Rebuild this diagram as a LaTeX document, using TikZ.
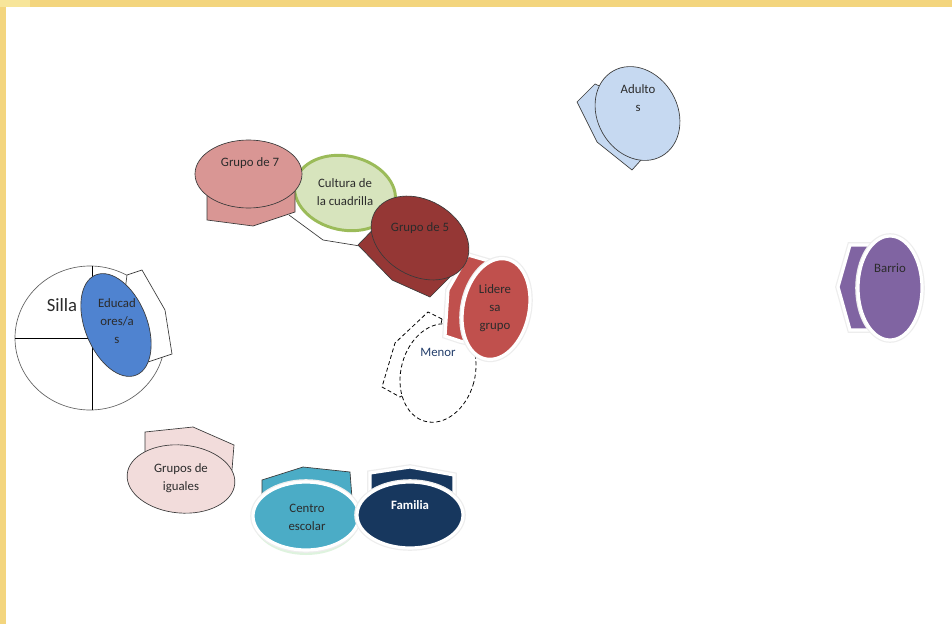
\documentclass[tikz,border=0pt]{standalone}
\usepackage{fontspec}
\setmainfont{Carlito}
\begin{document}
\definecolor{frameY}{HTML}{F3D57E}
\definecolor{txt}{HTML}{2B2B2B}
\definecolor{edge}{HTML}{3A3A3A}
\definecolor{gsiete}{HTML}{D99694}
\definecolor{cultF}{HTML}{D7E4BD}
\definecolor{cultB}{HTML}{9BBB59}
\definecolor{gcinco}{HTML}{953735}
\definecolor{lider}{HTML}{C0504D}
\definecolor{adul}{HTML}{C6D9F1}
\definecolor{barr}{HTML}{8064A2}
\definecolor{educ}{HTML}{4F83D0}
\definecolor{igual}{HTML}{F2DCDB}
\definecolor{centro}{HTML}{4BACC6}
\definecolor{famil}{HTML}{17375E}
\definecolor{menorT}{HTML}{233E6B}
\begin{tikzpicture}[x=0.75pt,y=-0.75pt,
  lbl/.style={font=\fontsize{9.6}{13.6}\selectfont, text=txt, align=center, inner sep=0pt},
  thin edge/.style={draw=edge, line width=0.5pt},
  glow/.style={preaction={draw=black!7, line width=4.2pt}, draw=white, line width=2.4pt},
  dashy/.style={draw=black, dashed, line width=0.6pt, dash pattern=on 3pt off 2pt}]
% page and frame
\useasboundingbox (0,0) rectangle (952,624);
\fill[white] (0,0) rectangle (952,624);
\fill[frameY] (0,0) rectangle (952,7.5);
\fill[frameY] (0,0) rectangle (5.5,624);
\fill[frameY!60!yellow!40!white, opacity=0.5] (0,0) rectangle (30,7.5);

% --- Silla / Educadores ---
\draw[draw=edge!80, line width=0.5pt, fill=white] (90,338) ellipse [x radius=75, y radius=72];
\draw[black, line width=0.6pt] (92,266) -- (92,410);
\draw[black, line width=0.6pt] (15,338) -- (92,338);
\node[font=\fontsize{14}{16}\selectfont, text=txt] (silla) at (62,305) {Silla};
\draw[thin edge, fill=white] (127,275) -- (142,270) -- (165,310) -- (172,354) -- (148,362) -- (120,330) -- cycle;
\draw[thin edge, fill=educ, rotate around={22:(116,325)}] (116,325) ellipse [x radius=31, y radius=54];
\node[lbl] (educ) at (117,321) {Educad\\ores/a\\s};

% --- Grupos de iguales ---
\draw[thin edge, fill=igual] (145,432) -- (193,427) -- (234,445) -- (232,470) -- (145,458) -- cycle;
\draw[thin edge, fill=igual, rotate around={-5:(181,479)}] (181,479) ellipse [x radius=54, y radius=34];
\node[lbl] (iguales) at (181,478) {Grupos de\\iguales};

% --- Centro escolar ---
\draw[thin edge, fill=centro] (262,480) -- (303,467) -- (350,472) -- (352,498) -- (262,500) -- cycle;
\fill[black!35!green!25!white, opacity=0.5] (306,520) ellipse [x radius=53, y radius=35];
\draw[glow, fill=centro] (306,516) ellipse [x radius=53, y radius=34];
\node[lbl] (centro) at (307,517) {Centro\\escolar};

% --- Familia ---
\draw[glow, fill=famil] (370,473) -- (410,467) -- (454,475) -- (454,500) -- (370,500) -- cycle;
\draw[glow, fill=famil] (410,515) ellipse [x radius=53, y radius=33];
\node[lbl, text=white, font=\fontsize{9.6}{13.6}\selectfont\bfseries] (familia) at (410,505) {Familia};

% --- Menor ---
\draw[dashy, fill=white] (442,319) -- (428,312) -- (395,343) -- (382,387) -- (400,397) -- (430,380) -- cycle;
\draw[dashy, fill=white, rotate around={-15:(438,373)}] (438,373) ellipse [x radius=37, y radius=50];
\node[lbl, text=menorT] (menor) at (438,352) {Menor};

% --- Lideresa grupo ---
\draw[glow, fill=lider] (468,255) -- (492,262) -- (482,346) -- (460,341) -- (445,336) -- (448,290) -- cycle;
\draw[glow, fill=lider, rotate around={-12:(496,309)}] (496,309) ellipse [x radius=33, y radius=51];
\node[lbl] (lider) at (495,308) {Lidere\\sa\\grupo};

% --- Cultura de la cuadrilla ---
\draw[thin edge] (289,215) -- (323,240) -- (360,246);
\draw[draw=cultB, line width=2.2pt, fill=cultF, rotate around={-12:(345,193)}] (345,193) ellipse [x radius=51, y radius=37];
\node[lbl] (cultura) at (345,192) {Cultura de\\la cuadrilla};

% --- Grupo de 7 ---
\draw[thin edge, fill=gsiete] (207,178) -- (207,220) -- (253,226) -- (295,212) -- (295,178) -- (250,165) -- cycle;
\draw[thin edge, fill=gsiete] (248.5,174) ellipse [x radius=53.5, y radius=34];
\node[lbl] (g7) at (250,163) {Grupo de 7};

% --- Grupo de 5 ---
\draw[thin edge, fill=gcinco] (358,245) -- (392,280) -- (430,297) -- (452,275) -- (440,215) -- (390,212) -- cycle;
\draw[thin edge, fill=gcinco, rotate around={-30:(420,238)}] (420,238) ellipse [x radius=52, y radius=38];
\node[lbl] (g5) at (420,228) {Grupo de 5};

% --- Adultos ---
\draw[thin edge, fill=adul] (577,102) -- (595,84) -- (630,100) -- (650,150) -- (632,170) -- (597,142) -- cycle;
\draw[thin edge, fill=adul, rotate around={30:(637.5,113.5)}] (637.5,113.5) ellipse [x radius=40, y radius=49];
\node[lbl] (adultos) at (638,98) {Adulto\\s};

% --- Barrio ---
\draw[glow, fill=barr] (850,245) -- (872,245) -- (872,330) -- (850,330) -- (838,287) -- cycle;
\draw[glow, fill=barr] (890,288) ellipse [x radius=32, y radius=52];
\node[lbl] (barrio) at (890,268) {Barrio};
\end{tikzpicture}
\end{document}
